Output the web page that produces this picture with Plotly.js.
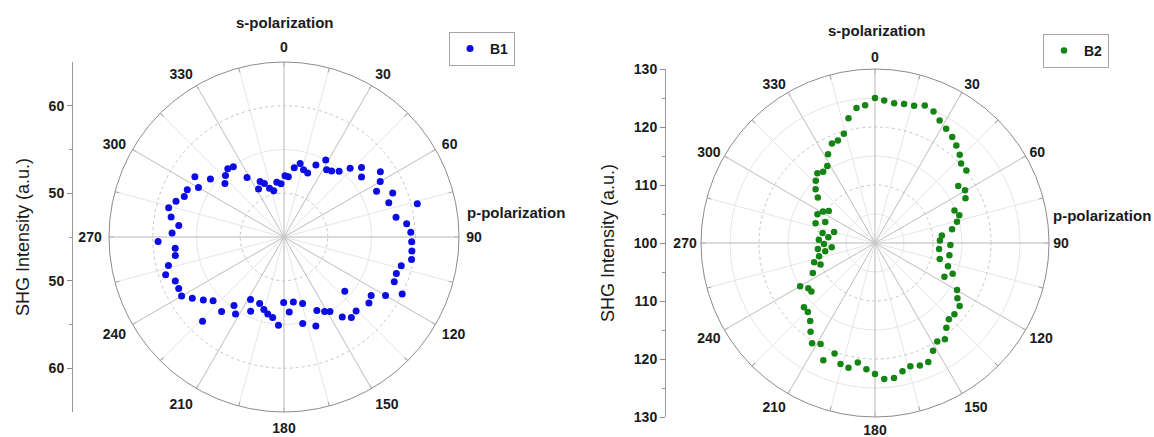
<!DOCTYPE html>
<html>
<head>
<meta charset="utf-8">
<script src="https://cdn.plot.ly/plotly-3.0.1.min.js"></script>
<style>
  html, body { margin: 0; padding: 0; background: #ffffff; }
  #chart { width: 1154px; height: 437px; }
</style>
</head>
<body>
<div id="chart"></div>
<script>
// ---- SHG polar scans: analyser angle (deg) and intensity (a.u.) ----
const b1Theta = [0.9, 4.1, 8.4, 12.4, 16.2, 20.3, 23.9, 28.5, 32.4, 35.8, 40.0, 43.9, 48.1, 52.3, 55.9,
  60.0, 63.7, 68.0, 71.9, 76.0, 80.0, 83.8, 87.9, 92.1, 96.2, 100.0, 103.8, 108.0, 112.1, 115.8,
  120.0, 123.9, 127.9, 131.7, 135.7, 140.1, 143.9, 148.3, 151.4, 155.9, 160.3, 164.4, 167.8, 171.8, 176.0,
  180.3, 183.6, 188.0, 191.9, 195.5, 200.1, 204.2, 208.2, 212.2, 216.1, 220.0, 224.0, 228.0, 232.0, 236.3,
  240.1, 243.9, 248.0, 252.3, 256.2, 260.3, 264.1, 268.0, 272.0, 276.3, 280.0, 284.2, 288.3, 292.1, 296.0,
  300.1, 304.1, 308.2, 312.1, 316.4, 320.5, 324.2, 328.1, 332.0, 336.7, 339.8, 343.4, 347.5, 352.5, 356.8];
const b1Intensity = [52.0, 51.9, 53.0, 53.6, 53.0, 52.8, 54.0, 55.0, 54.1, 54.3, 54.8, 55.9, 56.9, 56.2, 58.3,
  57.7, 56.8, 58.4, 57.6, 60.7, 58.0, 59.1, 59.5, 59.6, 59.7, 59.8, 58.8, 58.5, 58.6, 60.0,
  58.4, 57.0, 57.3, 54.3, 56.8, 57.0, 56.3, 55.0, 54.7, 54.2, 55.8, 52.9, 55.1, 52.5, 53.6,
  52.5, 55.1, 54.3, 54.0, 53.6, 53.1, 54.3, 53.1, 55.4, 54.7, 56.1, 58.4, 55.9, 56.7, 57.6,
  58.5, 58.4, 58.4, 59.2, 58.6, 57.6, 57.5, 59.4, 57.8, 57.1, 58.1, 58.6, 58.0, 57.3, 57.3,
  56.3, 57.3, 55.7, 54.1, 54.7, 55.1, 54.9, 53.0, 51.2, 51.9, 51.5, 50.8, 50.4, 51.3, 51.1];

const b2Theta = [0.0, 3.7, 7.8, 11.8, 15.9, 19.9, 24.0, 27.8, 31.9, 36.1, 39.8, 43.8, 47.3, 51.6, 55.6,
  59.6, 63.7, 67.8, 71.8, 75.5, 79.8, 83.5, 87.7, 91.5, 95.3, 99.4, 103.8, 107.6, 111.6, 115.9,
  119.8, 123.8, 126.7, 131.9, 135.9, 139.9, 144.0, 147.7, 151.7, 155.9, 159.9, 164.0, 167.9, 172.0, 176.1,
  180.0, 183.9, 188.2, 192.0, 195.9, 200.1, 203.8, 208.3, 212.1, 216.0, 219.7, 224.2, 227.9, 232.6, 235.9,
  240.0, 244.3, 248.5, 252.5, 256.7, 260.5, 264.0, 264.3, 268.9, 273.4, 276.9, 280.7, 284.9, 288.4, 292.8,
  296.6, 301.2, 304.7, 308.5, 312.1, 316.4, 320.4, 324.0, 328.2, 332.1, 336.6, 340.1, 344.1, 348.0, 352.2, 355.9];
const b2Intensity = [125.0, 124.6, 124.3, 124.5, 124.6, 125.2, 124.8, 123.9, 123.2, 122.6, 121.9, 121.1, 120.2, 120.1, 117.4,
  118.0, 117.4, 114.8, 115.3, 114.6, 113.5, 111.6, 111.2, 113.0, 111.1, 113.0, 111.5, 113.2, 114.4, 113.3,
  116.3, 117.1, 118.2, 118.4, 118.3, 119.1, 120.5, 120.1, 121.1, 122.5, 122.5, 122.1, 122.6, 123.5, 123.5,
  122.6, 121.8, 120.8, 122.0, 121.7, 120.3, 122.1, 119.8, 120.4, 118.9, 117.5, 116.6, 116.5, 113.8, 113.9,
  114.9, 111.9, 110.1, 111.0, 109.9, 108.7, 109.9, 107.5, 108.8, 109.7, 108.1, 109.2, 107.3, 110.8, 109.3,
  111.1, 110.5, 109.7, 112.6, 113.8, 114.8, 115.6, 115.2, 115.6, 117.3, 118.7, 118.8, 119.6, 122.0, 123.5, 123.8];

// angular ticks (labelled every 30 deg, minor spokes in between)
const angleTicks = [0, 30, 60, 90, 120, 150, 180, 210, 240, 270, 300, 330];
const angleTickText = ['0', '30', '60', '90', '120', '150', '180', '210', '240', '270', '300', '330'];
const minorAngles = [15, 45, 75, 105, 135, 165, 195, 225, 255, 285, 315, 345];

// radial ranges and grid rings
const b1Range = [45, 65];
const b1RingsMajor = [50, 60];
const b1RingsMinor = [55];
const b2Range = [100, 130];
const b2RingsMajor = [110, 120];
const b2RingsMinor = [105, 115, 125];

// side intensity scale: signed distance from the pole, labelled with intensity
const b1ScaleTicks = [-15, -5, 5, 15];
const b1ScaleText = ['60', '50', '50', '60'];
const b1ScaleMinor = [-10, 0, 10];
const b2ScaleTicks = [-30, -20, -10, 0, 10, 20, 30];
const b2ScaleText = ['130', '120', '110', '100', '110', '120', '130'];
const b2ScaleMinor = [-25, -15, -5, 5, 15, 25];

// ---- geometry helpers (pixel -> paper fraction) ----
const W = 1154, H = 437;
const fx = px => px / W;
const fy = py => 1 - py / H;
const FONT = 'Liberation Sans, Arial, Helvetica, sans-serif';
const INK = '#1a1a1a';

function polarDomain(cx, cy, r) {
  return { x: [fx(cx - r), fx(cx + r)], y: [fy(cy + r), fy(cy - r)] };
}

// labelGap pushes the angle labels away from the rim
const left = { cx: 284, cy: 237, r: 175, axisX: 73, labelGap: 4 };
const right = { cx: 875, cy: 243, r: 174, axisX: 666, labelGap: 1 };

// lower layer: faint minor rings, all spokes and the inward ticks on the rim
function minorPolar(geo, range, rings) {
  return {
    domain: polarDomain(geo.cx, geo.cy, geo.r),
    bgcolor: '#ffffff',
    radialaxis: {
      range: range, tickmode: 'array', tickvals: rings, showticklabels: false,
      ticks: '', showline: false, gridcolor: '#e6e6e6', gridwidth: 1
    },
    angularaxis: {
      rotation: 90, direction: 'clockwise', tickmode: 'array',
      tickvals: angleTicks.concat(minorAngles),
      showticklabels: false, ticks: 'inside', ticklen: 4, tickcolor: '#a0a0a0',
      gridcolor: '#e6e6e6', showline: false
    }
  };
}

// upper layer: major rings, labelled spokes, rim and the data
function majorPolar(geo, range, rings) {
  return {
    domain: polarDomain(geo.cx, geo.cy, geo.r),
    bgcolor: 'rgba(0,0,0,0)',
    radialaxis: {
      range: range, tickmode: 'array', tickvals: rings, showticklabels: false,
      ticks: '', showline: false, gridcolor: '#c6c6c6', griddash: 'dot', layer: 'below traces'
    },
    angularaxis: {
      rotation: 90, direction: 'clockwise', tickmode: 'array',
      tickvals: angleTicks, ticktext: angleTickText,
      ticks: 'outside', ticklen: geo.labelGap, tickcolor: 'rgba(0,0,0,0)',
      gridcolor: '#c4c4c4', showline: true, linecolor: '#8c8c8c', linewidth: 1,
      tickfont: { family: FONT, size: 14, color: INK, weight: 'bold' },
      layer: 'below traces'
    }
  };
}

function sideScale(geo, span, vals, text, minor) {
  return {
    domain: [fy(geo.cy + geo.r), fy(geo.cy - geo.r)],
    range: [-span, span],
    tickmode: 'array', tickvals: vals, ticktext: text,
    ticks: 'outside', ticklen: 5, tickcolor: '#8c8c8c', tickwidth: 1,
    showline: true, linecolor: '#9a9a9a', linewidth: 1,
    showgrid: false, zeroline: false, fixedrange: true, automargin: false,
    tickfont: { family: FONT, size: 14, color: INK, weight: 'bold' },
    minor: { tickmode: 'array', tickvals: minor, ticks: 'outside', ticklen: 3, tickcolor: '#9a9a9a', showgrid: false },
    title: { text: 'SHG Intensity (a.u.)', font: { family: FONT, size: 18, color: INK }, standoff: 14 }
  };
}

const legendStyle = {
  xanchor: 'left', yanchor: 'top', bgcolor: '#ffffff',
  bordercolor: '#a6a6a6', borderwidth: 1, itemwidth: 30,
  font: { family: FONT, size: 14, color: INK, weight: 'bold' }
};

const data = [
  // anchors for the lower grid layers
  { type: 'scatterpolar', subplot: 'polar', r: [b1Range[0]], theta: [0], mode: 'none', showlegend: false, hoverinfo: 'skip' },
  { type: 'scatterpolar', subplot: 'polar2', r: [b2Range[0]], theta: [0], mode: 'none', showlegend: false, hoverinfo: 'skip' },
  // anchors for the side scales
  { type: 'scatter', xaxis: 'x', yaxis: 'y', x: [0.5], y: [0], mode: 'none', showlegend: false, hoverinfo: 'skip' },
  { type: 'scatter', xaxis: 'x2', yaxis: 'y2', x: [0.5], y: [0], mode: 'none', showlegend: false, hoverinfo: 'skip' },
  // measured scans
  {
    type: 'scatterpolar', subplot: 'polar3', name: 'B1', legend: 'legend',
    r: b1Intensity, theta: b1Theta, mode: 'markers',
    marker: { color: '#0b0be3', size: 7 }
  },
  {
    type: 'scatterpolar', subplot: 'polar4', name: 'B2', legend: 'legend2',
    r: b2Intensity, theta: b2Theta, mode: 'markers',
    marker: { color: '#148514', size: 6.5 }
  }
];

const labelFont = { family: FONT, size: 15, color: INK, weight: 'bold' };

const layout = {
  width: W, height: H,
  margin: { l: 0, r: 0, t: 0, b: 0 },
  paper_bgcolor: '#ffffff', plot_bgcolor: '#ffffff',
  showlegend: true,
  polar: minorPolar(left, b1Range, b1RingsMinor),
  polar2: minorPolar(right, b2Range, b2RingsMinor),
  polar3: majorPolar(left, b1Range, b1RingsMajor),
  polar4: majorPolar(right, b2Range, b2RingsMajor),
  xaxis: { domain: [fx(left.axisX), fx(left.axisX + 6)], range: [0, 1], visible: false, fixedrange: true, anchor: 'y' },
  yaxis: Object.assign(sideScale(left, b1Range[1] - b1Range[0], b1ScaleTicks, b1ScaleText, b1ScaleMinor), { anchor: 'x' }),
  xaxis2: { domain: [fx(right.axisX), fx(right.axisX + 6)], range: [0, 1], visible: false, fixedrange: true, anchor: 'y2' },
  yaxis2: Object.assign(sideScale(right, b2Range[1] - b2Range[0], b2ScaleTicks, b2ScaleText, b2ScaleMinor), { anchor: 'x2' }),
  legend: Object.assign({ x: fx(449), y: fy(32) }, legendStyle),
  legend2: Object.assign({ x: fx(1043), y: fy(34) }, legendStyle),
  annotations: [
    { text: 's-polarization', x: fx(285), y: fy(23), xref: 'paper', yref: 'paper', showarrow: false, font: labelFont, xanchor: 'center', yanchor: 'middle' },
    { text: 'p-polarization', x: fx(516), y: fy(212), xref: 'paper', yref: 'paper', showarrow: false, font: labelFont, xanchor: 'center', yanchor: 'middle' },
    { text: 's-polarization', x: fx(877), y: fy(30), xref: 'paper', yref: 'paper', showarrow: false, font: labelFont, xanchor: 'center', yanchor: 'middle' },
    { text: 'p-polarization', x: fx(1153), y: fy(215), xref: 'paper', yref: 'paper', showarrow: false, font: labelFont, xanchor: 'right', yanchor: 'middle' }
  ]
};

Plotly.newPlot('chart', data, layout, { staticPlot: true, displayModeBar: false });
</script>
</body>
</html>
